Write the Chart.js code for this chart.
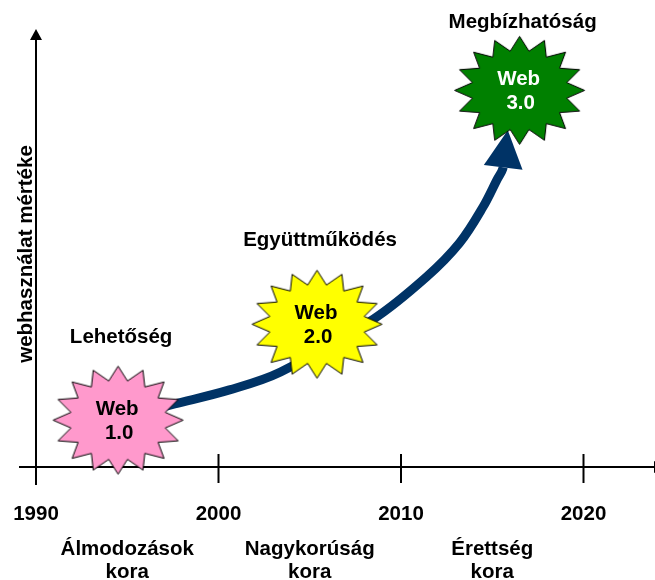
<!DOCTYPE html>
<html>
<head>
<meta charset="utf-8">
<script src="https://cdn.jsdelivr.net/npm/chart.js@4.4.1/dist/chart.umd.min.js"></script>
<style>
  html, body { margin: 0; padding: 0; background: #fff; }
  canvas { display: block; }
</style>
</head>
<body>
<canvas id="chartWeb" width="655" height="580"></canvas>
<script>
// --- data ---
const yearTicks = [1990, 2000, 2010, 2020];
const eraCenters = [1995, 2005, 2015];
const eraNames = [["Álmodozások", "kora"], ["Nagykorúság", "kora"], ["Érettség", "kora"]];

const webNames = [["Web", "1.0"], ["Web", "2.0"], ["Web", "3.0"]];
const webCaptions = ["Lehetőség", "Együttműködés", "Megbízhatóság"];
const webYears = [1994.5, 2005.4, 2016.5];
const webLevels = [10.7, 32.6, 86.0];

// curved arrow, last point = tip of the head
const arrowYears = [1996.25, 1997.6, 2000.6, 2003.4, 2008.5, 2011.4, 2013.2, 2014.5, 2015.25, 2015.6, 2015.85];
const arrowLevels = [13.0, 14.4, 17.6, 21.7, 33.8, 43.4, 51.1, 59.4, 65.5, 68.4, 76.9];

const yTitle = "webhasználat mértéke";

// --- styles ---
const FONT = "bold 20.5px 'Liberation Sans', Arial, sans-serif";
const starFills = ["#FF99CC", "#FFFF00", "#008000"];
const starText = ["#000000", "#000000", "#FFFFFF"];
const captionDy = [-77, -78, -62];
const navy = "#003366";

// x scale: 1990 sits at 36px, 18.25px per year
const pxPerYear = 18.25;
const xMin = 1990 - 36 / pxPerYear;
const xMax = 1990 + (655 - 36) / pxPerYear;

function makeStar(fill, rx, ry) {
  const c = document.createElement("canvas");
  c.width = Math.ceil(rx * 2 + 3);
  c.height = Math.ceil(ry * 2 + 3);
  const g = c.getContext("2d");
  const cx = c.width / 2, cy = c.height / 2;
  g.beginPath();
  for (let i = 0; i < 32; i++) {
    const a = -Math.PI / 2 + (i * Math.PI) / 16;
    const r = i % 2 === 0 ? 1 : 0.74;
    g.lineTo(cx + Math.cos(a) * rx * r, cy + Math.sin(a) * ry * r);
  }
  g.closePath();
  g.fillStyle = fill;
  g.fill();
  g.strokeStyle = "#000";
  g.lineWidth = 1;
  g.stroke();
  return c;
}

const stars = starFills.map((f) => makeStar(f, 65, 54));

const decor = {
  id: "decor",
  beforeDatasetsDraw(chart) {
    const ctx = chart.ctx;
    const xs = chart.scales.x;
    const ys = chart.scales.y;
    const area = chart.chartArea;
    const x0 = xs.getPixelForValue(yearTicks[0]);
    const yBase = ys.getPixelForValue(0);
    const yTop = ys.getPixelForValue(100);

    ctx.save();
    ctx.strokeStyle = "#000";
    ctx.fillStyle = "#000";
    ctx.lineWidth = 2;

    // x axis
    ctx.beginPath();
    ctx.moveTo(x0 - 17, yBase);
    ctx.lineTo(area.right, yBase);
    ctx.stroke();
    ctx.beginPath();
    ctx.moveTo(area.right - 1, yBase - 6);
    ctx.lineTo(area.right + 10, yBase);
    ctx.lineTo(area.right - 1, yBase + 6);
    ctx.closePath();
    ctx.fill();

    // y axis with arrow
    ctx.beginPath();
    ctx.moveTo(x0, yBase + 18);
    ctx.lineTo(x0, yTop + 10);
    ctx.stroke();
    ctx.beginPath();
    ctx.moveTo(x0, yTop);
    ctx.lineTo(x0 - 6, yTop + 11);
    ctx.lineTo(x0 + 6, yTop + 11);
    ctx.closePath();
    ctx.fill();

    // ticks
    yearTicks.slice(1).forEach((t) => {
      const px = xs.getPixelForValue(t);
      ctx.beginPath();
      ctx.moveTo(px, yBase - 13);
      ctx.lineTo(px, yBase + 16);
      ctx.stroke();
    });

    // tick labels + eras
    ctx.font = FONT;
    ctx.textAlign = "center";
    ctx.textBaseline = "alphabetic";
    yearTicks.forEach((t) => {
      ctx.fillText(String(t), xs.getPixelForValue(t), yBase + 53);
    });
    eraNames.forEach((lines, i) => {
      lines.forEach((s, j) => {
        ctx.fillText(s, xs.getPixelForValue(eraCenters[i]), yBase + 88 + j * 23);
      });
    });

    // captions above the stars
    webCaptions.forEach((s, i) => {
      ctx.fillText(s, xs.getPixelForValue(webYears[i]) + 3, ys.getPixelForValue(webLevels[i]) + captionDy[i]);
    });

    // y title
    ctx.translate(32, (yTop + yBase) / 2 + 6);
    ctx.rotate(-Math.PI / 2);
    ctx.fillText(yTitle, 0, 0);
    ctx.restore();
  },
  afterDatasetDraw(chart, args) {
    if (chart.data.datasets[args.index].label !== "arrow") return;
    const pts = args.meta.data;
    const base = pts[pts.length - 2];
    const tip = pts[pts.length - 1];
    let dx = tip.x - base.x, dy = tip.y - base.y;
    const len = Math.hypot(dx, dy);
    dx /= len; dy /= len;
    const hw = 19.5;
    const ctx = chart.ctx;
    ctx.save();
    ctx.fillStyle = navy;
    ctx.beginPath();
    ctx.moveTo(tip.x, tip.y);
    ctx.lineTo(base.x - dy * hw, base.y + dx * hw);
    ctx.lineTo(base.x + dy * hw, base.y - dx * hw);
    ctx.closePath();
    ctx.fill();
    ctx.restore();
  },
  afterDatasetsDraw(chart) {
    const ctx = chart.ctx;
    const xs = chart.scales.x;
    const ys = chart.scales.y;
    ctx.save();
    ctx.font = FONT;
    ctx.textAlign = "center";
    ctx.textBaseline = "alphabetic";
    webNames.forEach((lines, i) => {
      const px = xs.getPixelForValue(webYears[i]);
      const py = ys.getPixelForValue(webLevels[i]);
      ctx.fillStyle = starText[i];
      ctx.fillText(lines[0], px - 1, py - 5);
      ctx.fillText(lines[1], px + 1, py + 19);
    });
    ctx.restore();
  },
};

const ctx = document.getElementById("chartWeb");
const lastSeg = arrowYears.length - 1;

new Chart(ctx, {
  type: "line",
  data: {
    datasets: [
      {
        label: "stars",
        type: "scatter",
        data: webYears.map((x, i) => ({ x: x, y: webLevels[i] })),
        pointStyle: (c) => stars[c.dataIndex],
        pointRadius: 10,
        showLine: false,
        clip: false,
        order: 0,
      },
      {
        label: "arrow",
        data: arrowYears.map((x, i) => ({ x: x, y: arrowLevels[i] })),
        borderColor: navy,
        borderWidth: 9,
        pointRadius: 0,
        tension: 0.35,
        segment: {
          borderColor: (c) => (c.p1DataIndex === lastSeg ? "rgba(0,0,0,0)" : navy),
        },
        clip: false,
        order: 1,
      },
    ],
  },
  options: {
    responsive: false,
    devicePixelRatio: 1,
    animation: false,
    events: [],
    layout: { autoPadding: false, padding: { left: 0, right: 0, top: 29, bottom: 113 } },
    scales: {
      x: { type: "linear", min: xMin, max: xMax, display: false },
      y: { min: 0, max: 100, display: false },
    },
    plugins: {
      legend: { display: false },
      tooltip: { enabled: false },
    },
  },
  plugins: [decor],
});
</script>
</body>
</html>
